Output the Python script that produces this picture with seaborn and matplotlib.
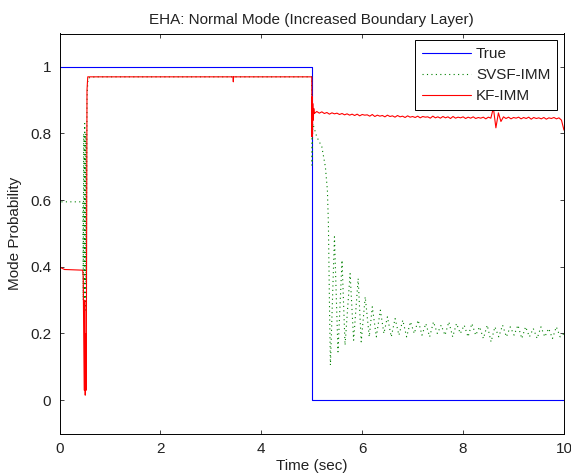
import numpy as np
import pandas as pd
import matplotlib
matplotlib.use("Agg")
import matplotlib.pyplot as plt
import seaborn as sns

# ---------------- data ----------------
true_t = [0.0, 5.0, 5.0, 10.0]
true_v = [1.0, 1.0, 0.0, 0.0]

# SVSF-IMM: transient part
svsf_t_a = [0.0, 0.005, 0.46, 0.47, 0.48, 0.49, 0.50, 0.51, 0.52, 0.53, 0.545,
            0.56, 0.58, 0.70, 5.0, 5.005, 5.02, 5.10, 5.20, 5.27, 5.31, 5.33,
            5.35, 5.37, 5.45, 5.52, 5.60, 5.66, 5.76, 5.83, 5.92, 5.98, 6.06,
            6.14, 6.20, 6.28, 6.36, 6.43]
svsf_v_a = [0.48, 0.595, 0.595, 0.30, 0.80, 0.25, 0.83, 0.27, 0.80, 0.35, 0.90,
            0.955, 0.967, 0.97, 0.97, 0.705, 0.83, 0.79, 0.76, 0.70, 0.63, 0.53,
            0.30, 0.105, 0.49, 0.145, 0.42, 0.165, 0.38, 0.18, 0.365, 0.175, 0.31,
            0.19, 0.28, 0.19, 0.27, 0.20]
# SVSF-IMM: settled oscillation, samples from 6.5 s to 10 s
svsf_v_b = [0.25, 0.19, 0.245, 0.195, 0.24, 0.19, 0.235, 0.20, 0.24, 0.195,
            0.23, 0.19, 0.235, 0.20, 0.225, 0.195, 0.235, 0.19, 0.23, 0.20,
            0.225, 0.19, 0.23, 0.195, 0.22, 0.185, 0.225, 0.175, 0.22, 0.19,
            0.225, 0.19, 0.22, 0.195, 0.225, 0.185, 0.22, 0.19, 0.215, 0.185,
            0.22, 0.19, 0.215, 0.185, 0.22, 0.19, 0.20]
svsf_t_b = np.linspace(6.5, 10.0, len(svsf_v_b))

# KF-IMM: transient part
kf_t_a = [0.0, 0.002, 0.02, 0.10, 0.46, 0.47, 0.49, 0.50, 0.51, 0.52, 0.53,
          0.545, 0.56, 3.44, 3.445, 3.45, 5.0, 5.005, 5.01, 5.015, 5.02, 5.03,
          5.04, 5.05]
kf_v_a = [0.533, 0.42, 0.398, 0.392, 0.39, 0.37, 0.03, 0.30, 0.015, 0.20, 0.03,
          0.93, 0.97, 0.97, 0.955, 0.97, 0.97, 0.79, 0.91, 0.80, 0.89, 0.84,
          0.875, 0.86]
# KF-IMM: noisy steady part, samples from 5.1 s to 10 s
kf_v_b = [0.866, 0.861, 0.865, 0.860, 0.863, 0.858, 0.862, 0.859, 0.861, 0.857,
          0.860, 0.856, 0.859, 0.855, 0.858, 0.854, 0.858, 0.853, 0.857, 0.855,
          0.856, 0.852, 0.857, 0.851, 0.855, 0.852, 0.854, 0.850, 0.855, 0.851,
          0.853, 0.849, 0.854, 0.850, 0.852, 0.848, 0.853, 0.849, 0.851, 0.848,
          0.852, 0.847, 0.851, 0.849, 0.850, 0.846, 0.852, 0.847, 0.850, 0.846,
          0.851, 0.847, 0.850, 0.845, 0.851, 0.846, 0.849, 0.847, 0.850, 0.845,
          0.849, 0.846, 0.850, 0.845, 0.848, 0.846, 0.849, 0.844, 0.849, 0.846,
          0.877, 0.817, 0.862, 0.836, 0.850, 0.845, 0.849, 0.844, 0.848, 0.846,
          0.849, 0.844, 0.848, 0.845, 0.849, 0.843, 0.848, 0.845, 0.847, 0.844,
          0.848, 0.843, 0.847, 0.845, 0.848, 0.844, 0.847, 0.840,
          0.81]
kf_t_b = np.linspace(5.1, 10.0, len(kf_v_b))

x_ticks = [0, 2, 4, 6, 8, 10]
y_ticks = [0, 0.2, 0.4, 0.6, 0.8, 1.0]
y_tick_labels = ["0", "0.2", "0.4", "0.6", "0.8", "1"]

title = "EHA: Normal Mode (Increased Boundary Layer)"
xlabel = "Time (sec)"
ylabel = "Mode Probability"

# ---------------- frames ----------------
df_true = pd.DataFrame({"t": true_t, "p": true_v})
df_svsf = pd.DataFrame({"t": np.concatenate([svsf_t_a, svsf_t_b]),
                        "p": np.concatenate([svsf_v_a, svsf_v_b])})
df_kf = pd.DataFrame({"t": np.concatenate([kf_t_a, kf_t_b]),
                      "p": np.concatenate([kf_v_a, kf_v_b])})

# ---------------- plot ----------------
sns.set_style("white")
plt.rcParams["font.family"] = ["Liberation Sans", "DejaVu Sans"]
plt.rcParams["text.color"] = "#222222"
plt.rcParams["axes.labelcolor"] = "#222222"
plt.rcParams["xtick.color"] = "#222222"
plt.rcParams["ytick.color"] = "#222222"

fig = plt.figure(figsize=(5.71, 4.76), dpi=100)
ax = fig.add_axes([59.5 / 571, 1 - 433.5 / 476, (564 - 59.5) / 571, (433.5 - 33.5) / 476])

sns.lineplot(data=df_true, x="t", y="p", sort=False, estimator=None, ax=ax,
             color="#0000ff", lw=0.8, label="True")
sns.lineplot(data=df_svsf, x="t", y="p", sort=False, estimator=None, ax=ax,
             color="#008000", lw=0.8, linestyle=(0, (1, 3)), label="SVSF-IMM")
sns.lineplot(data=df_kf, x="t", y="p", sort=False, estimator=None, ax=ax,
             color="#ff0000", lw=0.8, label="KF-IMM")

ax.set_xlim(0, 10)
ax.set_ylim(-0.1, 1.1)
ax.set_xticks(x_ticks)
ax.set_xticklabels([str(v) for v in x_ticks])
ax.set_yticks(y_ticks)
ax.set_yticklabels(y_tick_labels)
ax.tick_params(direction="in", length=3.2, width=0.6, labelsize=11,
               top=True, right=True, bottom=True, left=True, pad=6)
for s in ax.spines.values():
    s.set_visible(True)
    s.set_color("#000000")
    s.set_linewidth(0.7)

ax.set_title(title, fontsize=11, pad=7)
ax.set_xlabel(xlabel, fontsize=11, labelpad=2)
ax.set_ylabel(ylabel, fontsize=11, labelpad=6)

leg = ax.legend(loc="upper right", fontsize=11, handlelength=3.2,
                borderaxespad=0.45, labelspacing=0.45, handletextpad=0.35,
                borderpad=0.45, fancybox=False, framealpha=1)
leg.get_frame().set_edgecolor("#000000")
leg.get_frame().set_linewidth(0.7)

fig.savefig("out.png", dpi=100)
